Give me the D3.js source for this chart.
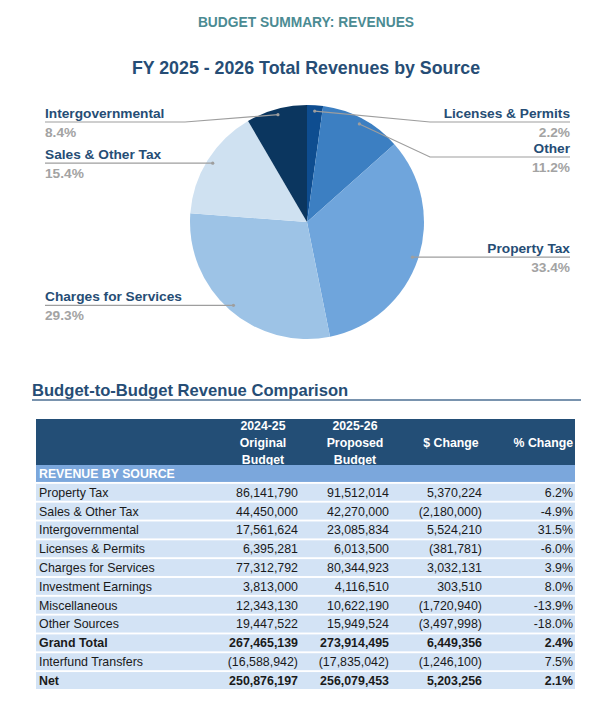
<!DOCTYPE html>
<html>
<head>
<meta charset="utf-8">
<script src="https://cdn.jsdelivr.net/npm/d3@7"></script>
<style>
  body { margin: 0; background: #fff; }
  svg { display: block; font-family: "Liberation Sans", Arial, sans-serif; }
</style>
</head>
<body>
<div id="chart"></div>
<script>
// pie data (share of 2025-26 revenues, %)
var pieLabels = ["Licenses & Permits", "Other", "Property Tax", "Charges for Services", "Sales & Other Tax", "Intergovernmental"];
var pieValues = [2.2, 11.2, 33.4, 29.3, 15.4, 8.4];
var pieColors = ["#0e4d90", "#3c7fc2", "#6fa5dc", "#9dc3e6", "#cfe1f1", "#0b365f"];

// table data
var rowNames = ["Property Tax", "Sales & Other Tax", "Intergovernmental", "Licenses & Permits", "Charges for Services",
    "Investment Earnings", "Miscellaneous", "Other Sources", "Grand Total", "Interfund Transfers", "Net"];
var budget2425 = [86141790, 44450000, 17561624, 6395281, 77312792, 3813000, 12343130, 19447522, 267465139, -16588942, 250876197];
var budget2526 = [91512014, 42270000, 23085834, 6013500, 80344923, 4116510, 10622190, 15949524, 273914495, -17835042, 256079453];
var dollarChange = [5370224, -2180000, 5524210, -381781, 3032131, 303510, -1720940, -3497998, 6449356, -1246100, 5203256];
var pctChange = [6.2, -4.9, 31.5, -6.0, 3.9, 8.0, -13.9, -18.0, 2.4, 7.5, 2.1];
var boldRows = ["Grand Total", "Net"];
var headerLines = [["2024-25", "Original", "Budget"], ["2025-26", "Proposed", "Budget"], ["$ Change"], ["% Change"]];

var W = 606, H = 707;
var svg = d3.select("#chart").append("svg").attr("width", W).attr("height", H);

svg.append("text").attr("x", 306).attr("y", 27).attr("text-anchor", "middle")
    .attr("font-size", "13.8px").attr("font-weight", "bold").attr("fill", "#4b8b93")
    .text("BUDGET SUMMARY: REVENUES");

svg.append("text").attr("x", 306).attr("y", 74).attr("text-anchor", "middle")
    .attr("font-size", "17.8px").attr("font-weight", "bold").attr("fill", "#264d75")
    .text("FY 2025 - 2026 Total Revenues by Source");

// ---- pie ----
var cx = 307, cy = 222, R = 117;
var pie = d3.pie().sort(null).value(function (d) { return d.value; });
var arcs = pie(pieLabels.map(function (l, i) { return {label: l, value: pieValues[i], color: pieColors[i]}; }));
var arc = d3.arc().innerRadius(0).outerRadius(R);
var dotArc = d3.arc().innerRadius(R * 0.95).outerRadius(R * 0.95);

var g = svg.append("g").attr("transform", "translate(" + cx + "," + cy + ")");
g.selectAll("path").data(arcs).enter().append("path")
    .attr("d", arc)
    .attr("fill", function (d) { return d.data.color; });

// label layout
arcs.forEach(function (d) {
    var c = dotArc.centroid(d);
    d.dot = [cx + c[0], cy + c[1]];
    d.left = (d.startAngle + d.endAngle) / 2 > Math.PI;
});
[true, false].forEach(function (side) {
    var prev = -Infinity;
    arcs.filter(function (d) { return d.left === side; })
        .sort(function (a, b) { return a.dot[1] - b.dot[1]; })
        .forEach(function (d) {
            d.lineY = Math.max(d.dot[1], prev + 35, 122);
            prev = d.lineY;
        });
});

var lab = svg.append("g");
arcs.forEach(function (d) {
    var tx = d.left ? 45 : 570;
    var ex = d.left ? Math.min(185, d.dot[0]) : Math.max(430, d.dot[0]);
    lab.append("path")
        .attr("d", "M" + tx + "," + d.lineY + "L" + ex + "," + d.lineY + "L" + d.dot[0] + "," + d.dot[1])
        .attr("fill", "none").attr("stroke", "#9e9e9e").attr("stroke-width", 1.2);
    lab.append("circle").attr("cx", d.dot[0]).attr("cy", d.dot[1]).attr("r", 1.6).attr("fill", "#9e9e9e");
    lab.append("text").attr("x", tx).attr("y", d.lineY - 4)
        .attr("text-anchor", d.left ? "start" : "end")
        .attr("font-size", "13.7px").attr("font-weight", "bold").attr("fill", "#264d75")
        .text(d.data.label);
    lab.append("text").attr("x", tx).attr("y", d.lineY + 15)
        .attr("text-anchor", d.left ? "start" : "end")
        .attr("font-size", "13.7px").attr("font-weight", "bold").attr("fill", "#a3a3a3")
        .text(d.data.value.toFixed(1) + "%");
});

// ---- table ----
svg.append("text").attr("x", 32).attr("y", 396)
    .attr("font-size", "16.6px").attr("font-weight", "bold").attr("fill", "#264d75")
    .text("Budget-to-Budget Revenue Comparison");
svg.append("line").attr("x1", 32).attr("x2", 581).attr("y1", 400).attr("y2", 400)
    .attr("stroke", "#4d6f93").attr("stroke-width", 1.5);

var tL = 36, tR = 575;
var colEnds = [298, 389, 482, 573];
var colCenters = [263, 355, 451, 544];

svg.append("rect").attr("x", tL).attr("y", 419).attr("width", tR - tL).attr("height", 46).attr("fill", "#234e76");
headerLines.forEach(function (lines, c) {
    var start = 442 - (lines.length - 1) * 8.5;
    lines.forEach(function (s, k) {
        svg.append("text").attr("x", c === 3 ? colEnds[c] : colCenters[c]).attr("y", start + k * 17 + 4.5)
            .attr("text-anchor", c === 3 ? "end" : "middle")
            .attr("font-size", "12.3px").attr("font-weight", "bold").attr("fill", "#ffffff")
            .text(s);
    });
});

var y = d3.scaleBand().domain(["REVENUE BY SOURCE"].concat(rowNames)).range([465, 689]).paddingInner(0.1).paddingOuter(0);

svg.append("rect").attr("x", tL).attr("y", y("REVENUE BY SOURCE")).attr("width", tR - tL).attr("height", y.bandwidth())
    .attr("fill", "#7ba7dc");
svg.append("text").attr("x", 39).attr("y", y("REVENUE BY SOURCE") + y.bandwidth() / 2 + 4.3)
    .attr("font-size", "12.3px").attr("font-weight", "bold").attr("fill", "#ffffff")
    .text("REVENUE BY SOURCE");

function money(v) {
    var s = d3.format(",")(Math.abs(v));
    return v < 0 ? "(" + s + ")" : s;
}
function pct(v) {
    return (v < 0 ? "-" : "") + Math.abs(v).toFixed(1) + "%";
}

var rows = svg.selectAll("g.row").data(rowNames).enter().append("g").attr("class", "row")
    .attr("transform", function (d) { return "translate(0," + y(d) + ")"; });
rows.append("rect").attr("x", tL).attr("width", tR - tL).attr("height", y.bandwidth()).attr("fill", "#d3e3f5");
rows.each(function (name, i) {
    var r = d3.select(this);
    var bold = boldRows.indexOf(name) >= 0 ? "bold" : "normal";
    var ty = y.bandwidth() / 2 + 4.4;
    r.append("text").attr("x", 39).attr("y", ty).attr("font-size", "12.4px").attr("font-weight", bold)
        .attr("fill", "#1a1a1a").text(name);
    var vals = [money(budget2425[i]), money(budget2526[i]), money(dollarChange[i]), pct(pctChange[i])];
    vals.forEach(function (v, c) {
        r.append("text").attr("x", colEnds[c]).attr("y", ty).attr("text-anchor", "end")
            .attr("font-size", "12.4px").attr("font-weight", bold).attr("fill", "#1a1a1a").text(v);
    });
});
</script>
</body>
</html>
